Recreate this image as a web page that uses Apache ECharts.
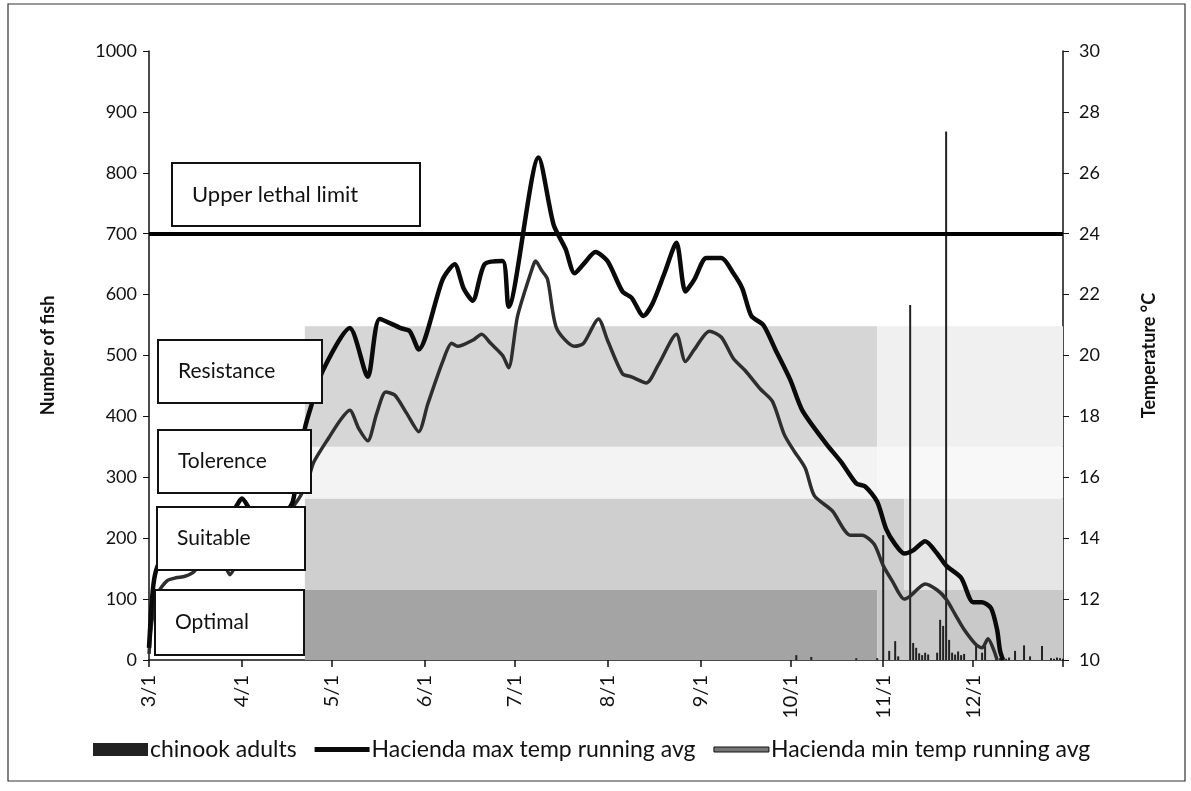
<!DOCTYPE html>
<html>
<head>
<meta charset="utf-8">
<script src="https://cdn.jsdelivr.net/npm/echarts@6/dist/echarts.min.js"></script>
<style>
html,body{margin:0;padding:0;background:#fff;}
#chart{width:1191px;height:791px;}
</style>
</head>
<body>
<div id="chart"></div>
<script>
// ---------- DATA ----------
// day index 0 = 3/1, 305 = 12/31
const maxDays  = [0,1,2,4,8,12,16,20,24,28,31,34,38,42,46,48,50,52,54,58,67,73,77,84,87,90,98,102,105,108,112,118,120,130,135,139,142,145,149,153,158,161,165,168,172,176,179,182,186,191,195,198,201,205,209,214,218,226,231,236,239,243,246,249,252,255,259,263,266,271,275,278,281,283,284,285];
const maxTemps = [10.4,12.0,12.8,13.3,13.6,13.9,14.2,14.5,14.8,14.9,15.3,14.9,14.6,14.7,14.9,15.2,16.4,17.6,18.3,19.5,20.9,19.3,21.2,20.9,20.8,20.2,22.5,23.0,22.2,21.8,23.0,23.1,21.6,26.5,24.3,23.5,22.7,23.0,23.4,23.1,22.1,21.9,21.3,21.7,22.7,23.7,22.1,22.5,23.2,23.2,22.7,22.2,21.3,21.0,20.2,19.2,18.2,17.1,16.5,15.8,15.7,15.2,14.3,13.8,13.5,13.6,13.9,13.5,13.1,12.7,11.9,11.9,11.7,11.0,10.3,10.0];

const minDays  = [0,1,3,6,9,12,15,18,22,25,27,30,34,38,42,46,50,53,55,60,64,67,70,73,76,79,82,86,90,93,98,101,103,108,111,114,118,120,123,128,129,131,133,136,142,145,150,153,158,161,166,170,176,179,182,187,191,195,199,204,208,212,215,219,222,228,234,238,242,245,248,252,254,259,263,266,269,272,276,278,280,282,283];
const minTemps = [10.2,11.3,12.2,12.6,12.7,12.75,12.9,13.3,13.6,13.2,12.8,13.3,13.8,14.2,14.5,14.8,15.3,15.9,16.5,17.3,17.9,18.2,17.6,17.2,18.1,18.8,18.7,18.1,17.5,18.4,19.8,20.4,20.3,20.5,20.7,20.4,20.0,19.6,21.3,22.9,23.1,22.8,22.5,20.9,20.3,20.4,21.2,20.5,19.4,19.3,19.1,19.7,20.7,19.8,20.2,20.8,20.6,19.9,19.5,18.9,18.5,17.4,16.9,16.3,15.4,14.9,14.1,14.1,13.8,13.1,12.6,12.0,12.1,12.5,12.3,12.0,11.5,11.0,10.5,10.4,10.7,10.3,10.0];

const fishDays   = [216,221,236,243,245,247,249,250,254,255,256,257,258,259,260,263,264,265,266,267,268,269,270,271,272,276,278,279,283,284,285,286,287,289,292,294,298,301,302,303,304,305];
const fishCounts = [8,5,3,3,205,15,31,6,583,28,20,11,8,12,9,12,66,56,868,33,12,9,14,8,10,25,12,23,4,3,5,2,4,15,24,6,23,3,2,4,3,2];

// temperature bands (in number-of-fish units on left axis)
const bandNames = ['Optimal','Suitable','Tolerence','Resistance'];
const bandLow   = [0,115,265,350];
const bandHigh  = [115,265,350,548];
const bandStartDay = 52;
const bandFadeDay  = [243,252,243,243];
const lethalTemp = 24;
const lethalLabel = 'Upper lethal limit';

const seriesNames = ['chinook adults','Hacienda max temp running avg','Hacienda min temp running avg'];

// ---------- BUILD ----------
const N = 306;
const categories = [];
for (let i = 0; i < N; i++) {
  const dt = new Date(Date.UTC(2010, 2, 1 + i));
  categories.push((dt.getUTCMonth() + 1) + '/' + dt.getUTCDate());
}
function toDaily(days, vals) {
  const arr = new Array(N).fill(null);
  days.forEach((d, i) => { arr[d] = vals[i]; });
  return arr;
}
const isMonthStart = (i, v) => /\/1$/.test(v);

const FONT = 'Lato, "Open Sans", sans-serif';
const bandColors = [['#a4a4a4','#c9c9c9'],['#cfcfcf','#e6e6e6'],['#f3f3f3','#f8f8f8'],['#d6d6d6','#f0f0f0']];
// [startIdx, endIdx, low, high, band, shade]
const bandRects = [];
bandNames.forEach((n, i) => {
  bandRects.push([bandStartDay, bandFadeDay[i], bandLow[i], bandHigh[i], i, 0]);
  bandRects.push([bandFadeDay[i], N - 1, bandLow[i], bandHigh[i], i, 1]);
});

function box(x, y, w, h, label, size) {
  return [
    {type:'rect', z:100, shape:{x:x, y:y, width:w, height:h}, style:{fill:'#fff', stroke:'#111', lineWidth:2}},
    {type:'text', z:101, x:x + 20, y:y + h/2, style:{text:label, fill:'#111', font:'' + size + 'px ' + FONT, textVerticalAlign:'middle', verticalAlign:'middle'}}
  ];
}

// thin horizontal bar icon inside a 55x13 box (moveTo points extend the bounding box)
const lineIcon = 'path://M0,0 M55,13 M0,4 L55,4 L55,9 L0,9 Z';

const chart = echarts.init(document.getElementById('chart'), null, {renderer:'canvas'});
const option = {
  backgroundColor:'#fff',
  animation:false,
  textStyle:{fontFamily:FONT},
  grid:{left:149, right:128, top:51, bottom:131},
  legend:{
    left:88, top:733, itemWidth:55, itemHeight:13, itemGap:18,
    textStyle:{fontSize:23, color:'#111', fontFamily:FONT, padding:[0,0,0,-3]},
    data:[{name:seriesNames[0], icon:'rect'},
          {name:seriesNames[1], icon:lineIcon, itemStyle:{color:'#0a0a0a'}},
          {name:seriesNames[2], icon:lineIcon, itemStyle:{color:'#777', borderColor:'#111', borderWidth:1}}]
  },
  xAxis:{
    type:'category', data:categories, boundaryGap:false,
    axisLine:{lineStyle:{color:'#111', width:1.5}},
    axisTick:{interval:(i, v) => isMonthStart(i, v) || i === N - 1, length:7, lineStyle:{color:'#111', width:1.5}},
    axisLabel:{interval:isMonthStart, rotate:90, fontSize:20, color:'#111', margin:15, fontFamily:FONT},
    splitLine:{show:false}
  },
  yAxis:[
    {type:'value', min:0, max:1000, interval:100, name:'Number of fish', nameLocation:'middle', nameGap:92, nameRotate:90,
     nameTextStyle:{fontSize:18, fontWeight:'bold', color:'#111', fontFamily:FONT},
     axisLine:{show:true, lineStyle:{color:'#111', width:1.5}},
     axisTick:{show:true, length:6, lineStyle:{color:'#111'}},
     axisLabel:{fontSize:18, color:'#111', margin:12, fontFamily:FONT, formatter:(v) => String(v)},
     splitLine:{show:false}},
    {type:'value', position:'right', min:10, max:30, interval:2, name:'Temperature °C', nameLocation:'middle', nameGap:77, nameRotate:90,
     nameTextStyle:{fontSize:18, fontWeight:'bold', color:'#111', fontFamily:FONT},
     axisLine:{show:true, lineStyle:{color:'#111', width:1.5}},
     axisTick:{show:true, length:6, lineStyle:{color:'#111'}},
     axisLabel:{fontSize:18, color:'#111', margin:16, fontFamily:FONT},
     splitLine:{show:false}}
  ],
  series:[
    {name:'bands', type:'custom', yAxisIndex:0, silent:true, z:1, data:bandRects,
     encode:{x:[0,1], y:[2,3]},
     renderItem:(params, api) => {
       const p1 = api.coord([api.value(0), api.value(3)]);
       const p2 = api.coord([api.value(1), api.value(2)]);
       return {type:'rect', shape:{x:p1[0], y:p1[1], width:p2[0]-p1[0], height:p2[1]-p1[1]},
               style:{fill:bandColors[api.value(4)][api.value(5)]}};
     }},
    {name:seriesNames[0], type:'bar', yAxisIndex:0, data:toDaily(fishDays, fishCounts), barWidth:2,
     itemStyle:{color:'#222'}, z:3},
    {name:seriesNames[1], type:'line', yAxisIndex:1, data:toDaily(maxDays, maxTemps), connectNulls:true,
     symbol:'none', smooth:0.25, lineStyle:{color:'#0a0a0a', width:4.5}, itemStyle:{color:'#0a0a0a'}, z:5,
     markLine:{silent:true, symbol:['none','none'], label:{show:false}, lineStyle:{color:'#000', width:4, type:'solid'},
               data:[{yAxis:lethalTemp}]}},
    {name:seriesNames[2], type:'line', yAxisIndex:1, data:toDaily(minDays, minTemps), connectNulls:true,
     symbol:'none', smooth:0.25, lineStyle:{color:'#2e2e2e', width:3.5}, itemStyle:{color:'#555'}, z:4}
  ],
  graphic:[
    {type:'rect', z:0, silent:true, shape:{x:8, y:4, width:1177, height:777}, style:{fill:'none', stroke:'#333', lineWidth:1.2}},
    ...box(172, 163, 248, 63, lethalLabel, 22),
    ...box(158, 340, 164, 63, bandNames[3], 21),
    ...box(158, 430, 153, 63, bandNames[2], 21),
    ...box(157, 507, 148, 63, bandNames[1], 21),
    ...box(155, 590, 149, 65, bandNames[0], 21)
  ]
};
chart.setOption(option);
</script>
</body>
</html>
